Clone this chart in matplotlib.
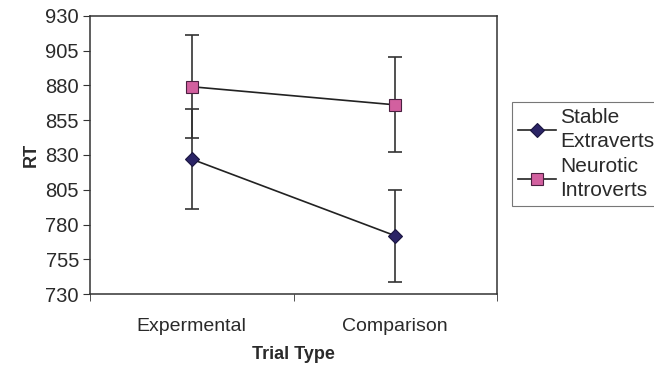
import matplotlib
matplotlib.use("Agg")
import matplotlib.pyplot as plt

plt.rcParams['font.family'] = ['Liberation Sans', 'DejaVu Sans']

# data
trial_types = ["Expermental", "Comparison"]
stable_rt = [827, 772]
stable_err = [36, 33]
neurotic_rt = [879, 866]
neurotic_err = [37, 34]
yticks = list(range(730, 931, 25))

fig = plt.figure(figsize=(6.54, 3.70), dpi=100)
ax = fig.add_axes([0.1376, 0.2046, 0.6224, 0.753])

x = list(range(len(trial_types)))
txt = '#2a2a2a'

# error bars first, then lines with markers (so the legend has no error bars)
for vals, errs in [(stable_rt, stable_err), (neurotic_rt, neurotic_err)]:
    ax.errorbar(x, vals, yerr=errs, fmt='none', ecolor='#333333',
                elinewidth=1.2, capsize=5, capthick=1.2, zorder=2)
ax.plot(x, stable_rt, color='#222222', lw=1.2, marker='D', ms=7.5,
        mfc='#2b2466', mec='#1a1540', mew=0.8, label="Stable\nExtraverts", zorder=3)
ax.plot(x, neurotic_rt, color='#222222', lw=1.2, marker='s', ms=8,
        mfc='#d2609f', mec='#4a2040', mew=0.8, label="Neurotic\nIntroverts", zorder=3)

ax.set_xlim(-0.5, len(trial_types) - 0.5)
ax.set_ylim(730, 930)
ax.set_yticks(yticks)
ax.set_xticks(x)
ax.set_xticklabels(trial_types)
ax.set_xticks([-0.5, 0.5, 1.5], minor=True)
ax.tick_params(axis='x', which='major', length=0, pad=17, labelsize=14, labelcolor=txt)
ax.tick_params(axis='x', which='minor', length=5, direction='out', color='#333333')
ax.tick_params(axis='y', length=5, direction='out', labelsize=14.5, color='#333333',
               labelcolor=txt, pad=3)
for s in ax.spines.values():
    s.set_color('#333333')
    s.set_linewidth(1.1)

ax.set_xlabel("Trial Type", fontweight='bold', fontsize=13, labelpad=8, color=txt)
ax.set_ylabel("RT", fontweight='bold', fontsize=13, labelpad=4, color=txt)

leg = fig.legend(loc='upper left', bbox_to_anchor=(0.783, 0.725),
                 fontsize=15, frameon=True, fancybox=False, handlelength=1.8,
                 handletextpad=0.2, borderpad=0.3, borderaxespad=0,
                 labelspacing=0.3, edgecolor='#555555')
leg.get_frame().set_linewidth(0.8)
for t in leg.get_texts():
    t.set_color(txt)
    t.set_linespacing(1.32)

fig.savefig("out.png", dpi=100)
